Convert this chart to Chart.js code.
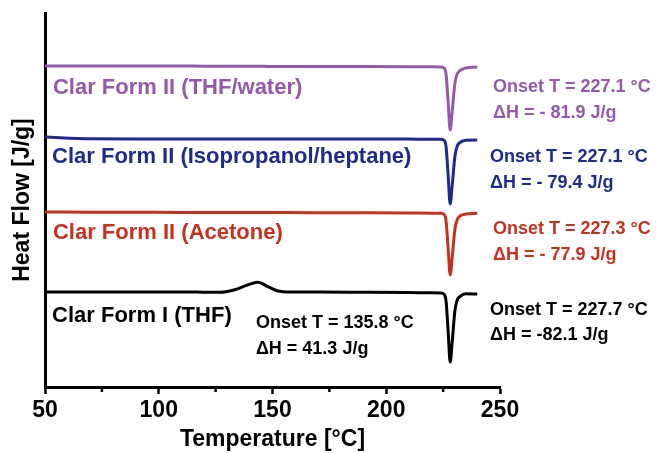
<!DOCTYPE html>
<html>
<head>
<meta charset="utf-8">
<script src="https://cdn.jsdelivr.net/npm/chart.js@4.4.1/dist/chart.umd.min.js"></script>
<style>
  html, body { margin: 0; padding: 0; background: #fff; }
  #wrap { width: 656px; height: 453px; }
</style>
</head>
<body>
<div id="wrap"><canvas id="dsc"></canvas></div>
<script>
// Temperatura (°C) - comum a todas as curvas
const temps = [50, 70, 90, 110, 120, 127, 133, 139, 143.5, 148, 152, 158, 170, 190, 210, 220, 224,
               225.5, 226.3, 227.2, 228.1, 229, 230.2, 231.2, 232.4, 235, 240];

// Heat flow (unidades arbitrárias, curvas deslocadas)
const thfWater   = [32.1, 32.1, 32.1, 32.1, 32.08, 32.08, 32.07, 32.07, 32.07, 32.06, 32.06, 32.06, 32.05, 32.04, 32.03, 32.02, 32.0,
                    31.88, 31.25, 28.5, 25.7, 27.6, 30.4, 31.3, 31.65, 31.9, 32.0];
const isoHeptane = [25.0, 24.82, 24.8, 24.8, 24.8, 24.8, 24.8, 24.8, 24.8, 24.8, 24.8, 24.8, 24.8, 24.8, 24.79, 24.78, 24.78,
                    24.65, 24.0, 21.2, 18.3, 20.2, 23.1, 24.1, 24.45, 24.68, 24.7];
const acetone    = [17.5, 17.48, 17.47, 17.46, 17.45, 17.45, 17.45, 17.45, 17.45, 17.45, 17.44, 17.44, 17.43, 17.42, 17.4, 17.38, 17.37,
                    17.25, 16.6, 13.9, 11.2, 13.0, 15.8, 16.75, 17.1, 17.3, 17.37];
const formI      = [9.5, 9.5, 9.5, 9.5, 9.48, 9.47, 9.7, 10.2, 10.47, 10.03, 9.63, 9.5, 9.5, 9.48, 9.45, 9.42, 9.4,
                    9.26, 8.57, 5.6, 2.5, 4.57, 7.67, 8.71, 9.05, 9.33, 9.3];

const seriesNames = ["Clar Form II (THF/water)", "Clar Form II (Isopropanol/heptane)",
                     "Clar Form II (Acetone)", "Clar Form I (THF)"];
const onsetText = ["Onset T = 227.1 °C", "Onset T = 227.1 °C", "Onset T = 227.3 °C", "Onset T = 227.7 °C", "Onset T = 135.8 °C"];
const enthalpyText = ["ΔH = - 81.9 J/g", "ΔH = - 79.4 J/g", "ΔH = - 77.9 J/g", "ΔH = -82.1 J/g", "ΔH = 41.3 J/g"];

const xTicks = [50, 100, 150, 200, 250];
const xMinorTicks = [75, 125, 175, 225];

const cores = ["#9459ab", "#1f2b8c", "#c4321f", "#000000"];
const FONT = "'Liberation Sans', Arial, sans-serif";

function serie(valores) {
    return temps.map((t, i) => ({ x: t, y: valores[i] }));
}

// posições dos textos em coordenadas de dados (°C, heat flow)
const textos = [
    { text: seriesNames[0], x: 53.5, y: 29.9, cor: cores[0], size: 22 },
    { text: seriesNames[1], x: 53.1, y: 23.0, cor: cores[1], size: 22 },
    { text: seriesNames[2], x: 53.5, y: 15.4, cor: cores[2], size: 22 },
    { text: seriesNames[3], x: 53.1, y: 7.1,  cor: cores[3], size: 22 },
    { text: onsetText[0], x: 246.9, y: 30.0, cor: cores[0], size: 18 },
    { text: enthalpyText[0], x: 246.9, y: 27.4, cor: cores[0], size: 18 },
    { text: onsetText[1], x: 245.6, y: 23.0, cor: cores[1], size: 18 },
    { text: enthalpyText[1], x: 245.6, y: 20.4, cor: cores[1], size: 18 },
    { text: onsetText[2], x: 246.9, y: 15.8, cor: cores[2], size: 18 },
    { text: enthalpyText[2], x: 246.9, y: 13.2, cor: cores[2], size: 18 },
    { text: onsetText[3], x: 245.6, y: 7.7,  cor: cores[3], size: 18 },
    { text: enthalpyText[3], x: 245.6, y: 5.2,  cor: cores[3], size: 18 },
    { text: onsetText[4], x: 142.7, y: 6.4,  cor: cores[3], size: 18 },
    { text: enthalpyText[4], x: 142.7, y: 3.8,  cor: cores[3], size: 18 }
];

const textosPlugin = {
    id: 'textos',
    afterDatasetsDraw(chart) {
        const { ctx, scales: { x, y } } = chart;
        ctx.save();
        ctx.textAlign = 'left';
        ctx.textBaseline = 'middle';
        textos.forEach(t => {
            ctx.fillStyle = t.cor;
            ctx.font = `bold ${t.size}px ${FONT}`;
            ctx.fillText(t.text, x.getPixelForValue(t.x), y.getPixelForValue(t.y));
        });
        ctx.restore();
    }
};

// ticks menores do eixo x (mais curtos que os principais)
const minorTicksPlugin = {
    id: 'minorTicks',
    afterDraw(chart) {
        const { ctx, scales: { x } } = chart;
        ctx.save();
        ctx.strokeStyle = '#000';
        ctx.lineWidth = 2.5;
        xMinorTicks.forEach(v => {
            const px = x.getPixelForValue(v);
            ctx.beginPath();
            ctx.moveTo(px, x.top);
            ctx.lineTo(px, x.top + 5);
            ctx.stroke();
        });
        ctx.restore();
    }
};

const datasets = [thfWater, isoHeptane, acetone, formI].map((vals, i) => ({
    label: seriesNames[i],
    data: serie(vals),
    borderColor: cores[i],
    borderWidth: 3,
    pointRadius: 0,
    fill: false,
    cubicInterpolationMode: 'monotone'
}));

new Chart(document.getElementById('dsc'), {
    type: 'line',
    data: { datasets },
    options: {
        responsive: true,
        maintainAspectRatio: false,
        animation: false,
        layout: { padding: { top: 13, right: 156, left: 0, bottom: 0 } },
        scales: {
            x: {
                type: 'linear',
                min: 50,
                max: 250,
                afterBuildTicks: (axis) => { axis.ticks = xTicks.map(v => ({ value: v })); },
                afterFit: (axis) => { axis.height = 66; },
                grid: { display: true, drawOnChartArea: false, drawTicks: true, tickLength: 7, tickWidth: 2.5, tickColor: '#000' },
                border: { display: true, color: '#000', width: 3 },
                ticks: {
                    color: '#000',
                    padding: 3,
                    maxRotation: 0,
                    autoSkip: false,
                    font: { family: FONT, size: 23, weight: 'bold' }
                },
                title: {
                    display: true,
                    text: 'Temperature [°C]',
                    color: '#000',
                    padding: { top: 0, bottom: 0 },
                    font: { family: FONT, size: 23, weight: 'bold' }
                }
            },
            y: {
                min: 0,
                max: 37.4,
                afterFit: (axis) => { axis.width = 45; },
                grid: { display: false },
                border: { display: true, color: '#000', width: 3 },
                ticks: { display: false },
                title: {
                    display: true,
                    text: 'Heat Flow [J/g]',
                    color: '#000',
                    padding: { top: 9, bottom: 0 },
                    font: { family: FONT, size: 23, weight: 'bold' }
                }
            }
        },
        plugins: {
            legend: { display: false },
            tooltip: { enabled: false }
        }
    },
    plugins: [textosPlugin, minorTicksPlugin]
});
</script>
</body>
</html>
